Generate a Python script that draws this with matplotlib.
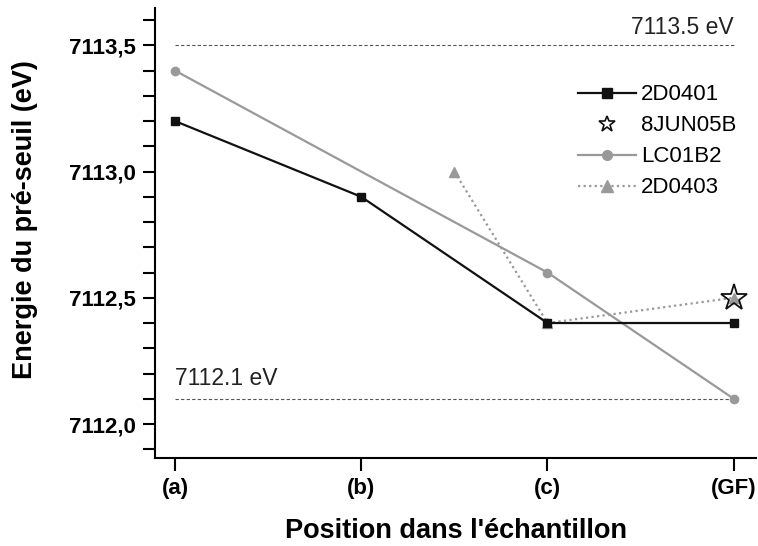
import numpy as np
import matplotlib.pyplot as plt

plt.rcParams['font.family'] = ['Liberation Sans', 'DejaVu Sans']

positions = ['(a)', '(b)', '(c)', '(GF)']

x_2d0401 = [0, 1, 2, 3]
y_2d0401 = [7113.2, 7112.9, 7112.4, 7112.4]

x_8jun05b = [3]
y_8jun05b = [7112.5]

x_lc01b2 = [0, 2, 3]
y_lc01b2 = [7113.4, 7112.6, 7112.1]

x_2d0403 = [1.5, 2, 3]
y_2d0403 = [7113.0, 7112.4, 7112.5]

ref_high = 7113.5
ref_low = 7112.1


def main():
    fig = plt.figure(figsize=(7.58, 5.46), dpi=100)
    ax = fig.add_axes([0.2045, 0.161, 0.793, 0.824])

    ax.hlines([ref_high, ref_low], 0, 3, colors='#555555', linestyles=(0, (3, 2)), lw=0.8)
    ax.text(3, ref_high + 0.025, '7113.5 eV', ha='right', va='bottom', fontsize=16.5, color='#222222')
    ax.text(0, ref_low + 0.035, '7112.1 eV', ha='left', va='bottom', fontsize=16.5, color='#222222')

    ax.plot(x_lc01b2, y_lc01b2, color='#999999', lw=1.6, marker='o', ms=6, label='LC01B2', zorder=3)
    ax.plot(x_2d0403, y_2d0403, color='#999999', lw=1.6, ls=(0, (1, 1.5)), marker='^', ms=7,
            label='2D0403', zorder=3)
    ax.plot(x_2d0401, y_2d0401, color='#111111', lw=1.6, marker='s', ms=6, label='2D0401', zorder=4)
    ax.plot(x_8jun05b, y_8jun05b, ls='none', marker='*', ms=20, mfc='none', mec='#111111', mew=1.3,
            label='8JUN05B', zorder=5)

    h, l = ax.get_legend_handles_labels()
    order = [2, 3, 0, 1]
    leg = ax.legend([h[i] for i in order], [l[i] for i in order], loc='upper left',
                    bbox_to_anchor=(0.67, 0.875), frameon=False, fontsize=16,
                    handlelength=2.6, handletextpad=0.25, labelspacing=0.45)
    # shrink the star in the legend
    for line in leg.get_lines():
        if line.get_marker() == '*':
            line.set_markersize(12)
            line.set_markeredgewidth(1.2)
        elif line.get_marker() == '^':
            line.set_markersize(9)
        else:
            line.set_markersize(7)

    ax.set_xlim(-0.107, 3.12)
    ax.set_ylim(7111.865, 7113.647)
    ax.set_xticks(np.arange(len(positions)))
    ax.set_xticklabels(positions, fontweight='bold', fontsize=16)
    ax.set_yticks([7112.0, 7112.5, 7113.0, 7113.5])
    ax.set_yticklabels(['7112,0', '7112,5', '7113,0', '7113,5'], fontweight='bold', fontsize=16)
    ax.set_yticks(np.arange(7111.9, 7113.65, 0.1), minor=True)
    ax.tick_params(axis='both', which='major', length=9, width=1.5, direction='out', pad=5)
    ax.tick_params(axis='y', which='minor', length=9, width=1.5, direction='out')

    ax.spines['top'].set_visible(False)
    ax.spines['right'].set_visible(False)
    ax.spines['left'].set_linewidth(1.5)
    ax.spines['bottom'].set_linewidth(1.5)

    ax.set_xlabel("Position dans l'échantillon", fontweight='bold', fontsize=19.5, labelpad=14)
    ax.set_ylabel('Energie du pré-seuil (eV)', fontweight='bold', fontsize=19.5, labelpad=22)
    ax.yaxis.label.set_y(0.53)

    fig.savefig('out.png', dpi=100)


if __name__ == "__main__":
    main()
